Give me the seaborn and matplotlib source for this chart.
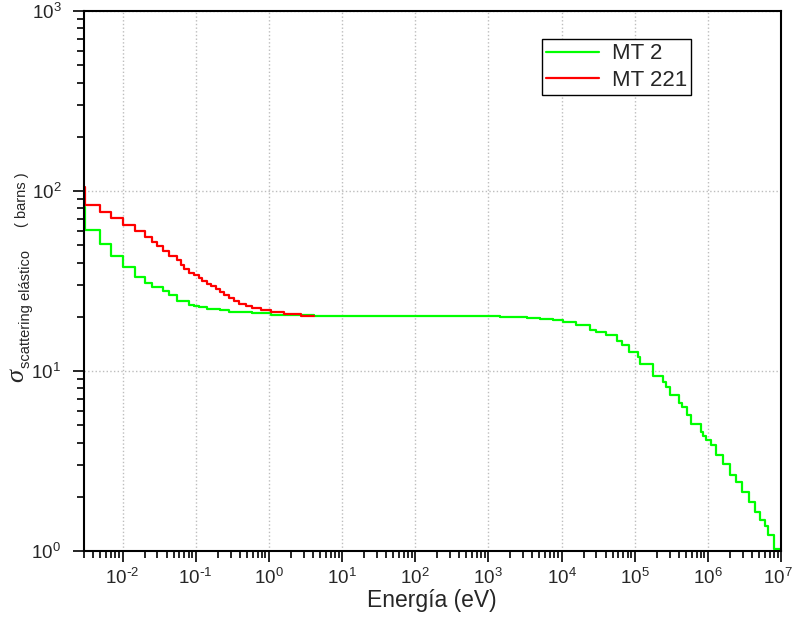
import numpy as np
import pandas as pd
import matplotlib
matplotlib.use("Agg")
import matplotlib.pyplot as plt
import matplotlib.transforms as mtransforms
import seaborn as sns
from matplotlib.ticker import LogLocator, FixedLocator, FixedFormatter, NullFormatter
from matplotlib.lines import Line2D

# Elastic scattering cross section, group-wise (bounds in eV, one value per group)
mt2_energy = [0.001, 0.0031, 0.005, 0.007, 0.01, 0.015, 0.02, 0.025, 0.0355, 0.043,
              0.055, 0.081, 0.095, 0.111, 0.141, 0.16, 0.215, 0.284, 0.39, 0.594,
              1.06, 1.6, 2.71, 4.11, 16, 1000, 1450, 3400, 5100, 7600,
              10500, 16000, 24500, 30000, 40500, 56600, 66200, 84100, 1.12e5, 1.20e5,
              1.79e5, 2.45e5, 2.72e5, 3.02e5, 4.01e5, 4.45e5, 5.11e5, 5.97e5, 8.18e5, 8.61e5,
              9.57e5, 1.12e6, 1.31e6, 1.61e6, 1.99e6, 2.45e6, 2.96e6, 3.65e6, 4.37e6, 5.11e6,
              5.97e6, 6.62e6, 8.0e6, 1e7]
mt2_sigma = [81.5, 60.5, 50.6, 43.6, 37.6, 33.3, 30.9, 29.1, 27.9, 26.4,
             24.5, 23.2, 22.9, 22.6, 22.2, 22.0, 21.7, 21.4, 21.2, 20.9,
             20.6, 20.45, 20.35, 20.3, 20.25, 20.2, 20.0, 19.75, 19.5, 19.2,
             18.7, 18.0, 17.0, 16.5, 15.8, 14.7, 13.9, 12.8, 12.0, 10.9,
             9.38, 8.72, 8.12, 7.36, 6.62, 6.29, 5.70, 5.08, 4.61, 4.36,
             4.14, 3.89, 3.42, 3.05, 2.65, 2.43, 2.14, 1.88, 1.64, 1.49,
             1.37, 1.23, 1.03]

mt221_energy = [0.001, 0.0031, 0.005, 0.007, 0.01, 0.015, 0.02, 0.025, 0.03, 0.0355,
                0.043, 0.055, 0.0625, 0.069, 0.081, 0.095, 0.111, 0.123, 0.141, 0.16,
                0.187, 0.215, 0.243, 0.284, 0.333, 0.39, 0.481, 0.594, 0.771, 1.06,
                1.6, 2.71, 4.11]
mt221_sigma = [105.2, 84.1, 76.5, 70.8, 65.1, 59.8, 55.6, 52.1, 49.4, 46.5,
               43.4, 41.3, 38.7, 37.1, 35.1, 34.1, 32.7, 31.7, 30.6, 29.6,
               28.4, 27.3, 26.4, 25.3, 24.4, 23.7, 23.0, 22.3, 21.8, 21.2,
               20.7, 20.3]

series_labels = ["MT 2", "MT 221"]
series_colors = ["#00ff00", "#ff0000"]

x_ticks = [1e-2, 1e-1, 1e0, 1e1, 1e2, 1e3, 1e4, 1e5, 1e6, 1e7]
x_tick_labels = [r"$10^{\text{-}2}$", r"$10^{\text{-}1}$", r"$10^{0}$", r"$10^{1}$",
                 r"$10^{2}$", r"$10^{3}$", r"$10^{4}$", r"$10^{5}$", r"$10^{6}$",
                 r"$10^{7}$"]
y_ticks = [1e0, 1e1, 1e2, 1e3]
y_tick_labels = [r"$10^{0}$", r"$10^{1}$", r"$10^{2}$", r"$10^{3}$"]


def step_frame(bounds, values, label):
    # steps-post needs the closing edge repeated with the last group value
    return pd.DataFrame({"E": bounds, "sigma": list(values) + [values[-1]], "MT": label})


df = pd.concat([step_frame(mt2_energy, mt2_sigma, series_labels[0]),
                step_frame(mt221_energy, mt221_sigma, series_labels[1])],
               ignore_index=True)

sns.set_theme(style="white")
plt.rcParams["font.family"] = ["Liberation Sans", "DejaVu Sans"]
plt.rcParams["mathtext.default"] = "regular"

W, H = 794, 618
fig = plt.figure(figsize=(W / 100, H / 100), dpi=100)
ax = fig.add_axes([83.5 / W, 1 - 551 / H, (781 - 83.5) / W, (551 - 11) / H])

sns.lineplot(data=df, x="E", y="sigma", hue="MT", hue_order=series_labels,
             palette=dict(zip(series_labels, series_colors)),
             estimator=None, sort=False, drawstyle="steps-post",
             linewidth=1.6, ax=ax, legend=False)

ax.set_xscale("log")
ax.set_yscale("log")
ax.set_xlim(0.00293, 1e7)
ax.set_ylim(1, 1000)

ax.xaxis.set_major_locator(FixedLocator(x_ticks))
ax.xaxis.set_major_formatter(FixedFormatter(x_tick_labels))
ax.yaxis.set_major_locator(FixedLocator(y_ticks))
ax.yaxis.set_major_formatter(FixedFormatter(y_tick_labels))
ax.xaxis.set_minor_locator(LogLocator(base=10, subs=np.arange(2, 10), numticks=30))
ax.yaxis.set_minor_locator(LogLocator(base=10, subs=np.arange(2, 10), numticks=30))
ax.xaxis.set_minor_formatter(NullFormatter())
ax.yaxis.set_minor_formatter(NullFormatter())

ax.tick_params(which="both", direction="out", color="black", width=1.2,
               bottom=True, left=True, top=False, right=False)
ax.tick_params(which="major", length=8, labelsize=13.5)
ax.tick_params(axis="x", which="major", pad=4)
ax.tick_params(axis="y", which="major", pad=8)
ax.tick_params(which="minor", length=5)

# keep the last decade label inside the canvas edge
last_label = ax.get_xticklabels()[-1]
last_label.set_transform(last_label.get_transform() +
                         mtransforms.ScaledTranslation(-3 / 100, 0, fig.dpi_scale_trans))

ax.grid(True, which="major", linestyle=":", color="#bdbdbd", linewidth=1.0)
for side in ax.spines.values():
    side.set_color("black")
    side.set_linewidth(1.5)

ax.set_xlabel("Energía (eV)", fontsize=16.5, labelpad=1)
ax.set_ylabel("")

# y-axis label: sigma with subscript, plus the unit set apart
fig.text(17 / W, 1 - 376 / H, "σ", rotation=90, ha="center", va="center",
         fontsize=19, family=["Liberation Serif", "DejaVu Serif"], style="italic")
fig.text(26 / W, 1 - 309 / H, "scattering elástico", rotation=90, ha="center",
         va="center", fontsize=10.5)
fig.text(22 / W, 1 - 200 / H, "( barns )", rotation=90, ha="center", va="center",
         fontsize=10.5)

handles = [Line2D([], [], color=c, linewidth=1.6) for c in series_colors]
leg = ax.legend(handles, series_labels, loc="upper left",
                bbox_to_anchor=(541.7 / W, 1 - 39 / H), bbox_transform=fig.transFigure,
                fontsize=16, frameon=True, fancybox=False, shadow=False,
                handlelength=2.4, handletextpad=0.55, labelspacing=0.25,
                borderpad=0.2, borderaxespad=0.0)
leg.get_frame().set_edgecolor("black")
leg.get_frame().set_linewidth(1.0)
leg.get_frame().set_alpha(1)

fig.savefig("out.png", dpi=100)
